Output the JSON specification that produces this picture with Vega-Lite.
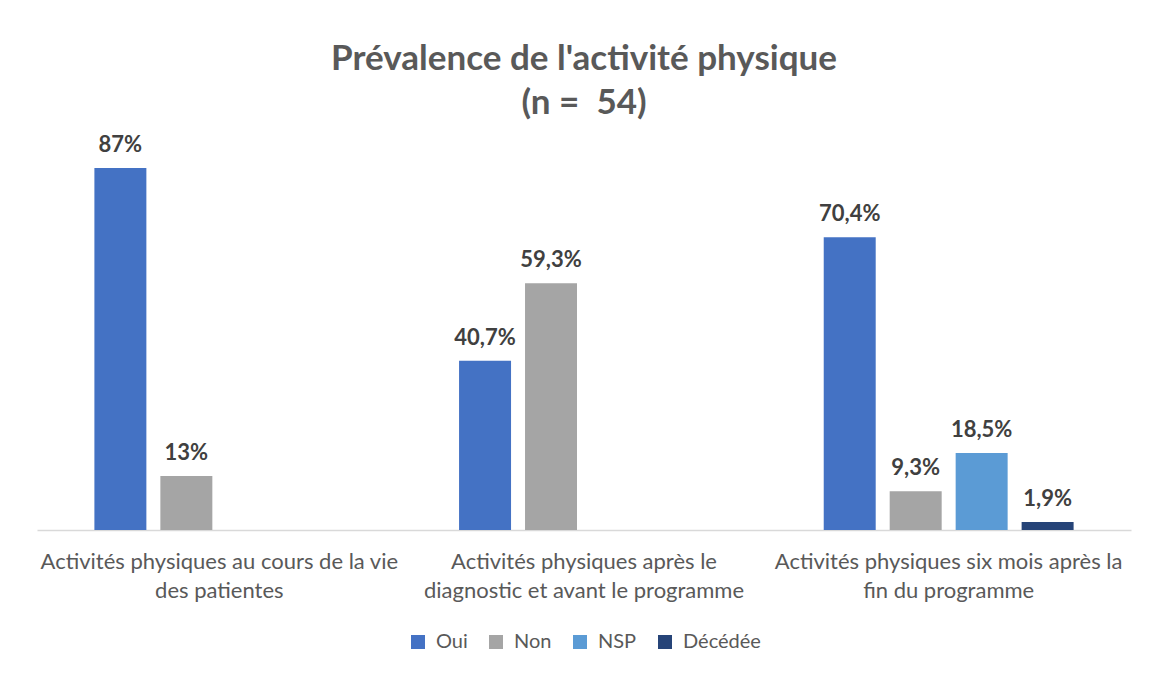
{
  "$schema": "https://vega.github.io/schema/vega-lite/v6.json",
  "width": 1094,
  "height": 416,
  "padding": {"left": 37, "top": 42, "right": 20, "bottom": 0},
  "autosize": {"type": "pad"},
  "background": "white",
  "config": {
    "view": {"stroke": null},
    "font": "Lato",
    "legend": {"layout": {"bottom": {"anchor": "middle"}}}
  },
  "title": {
    "text": ["Prévalence de l'activité physique", "(n =\u00a0 54)"],
    "fontSize": 35,
    "font": "Lato",
    "fontWeight": "bold",
    "color": "#595959",
    "lineHeight": 44,
    "anchor": "middle",
    "offset": -7
  },
  "data": {
    "values": [
      {"cat": "Activités physiques au cours de la vie|des patientes", "serie": "Oui", "value": 87, "label": "87%"},
      {"cat": "Activités physiques au cours de la vie|des patientes", "serie": "Non", "value": 13, "label": "13%"},
      {"cat": "Activités physiques après le|diagnostic et avant le programme", "serie": "Oui", "value": 40.7, "label": "40,7%"},
      {"cat": "Activités physiques après le|diagnostic et avant le programme", "serie": "Non", "value": 59.3, "label": "59,3%"},
      {"cat": "Activités physiques six mois après la|fin du programme", "serie": "Oui", "value": 70.4, "label": "70,4%"},
      {"cat": "Activités physiques six mois après la|fin du programme", "serie": "Non", "value": 9.3, "label": "9,3%"},
      {"cat": "Activités physiques six mois après la|fin du programme", "serie": "NSP", "value": 18.5, "label": "18,5%"},
      {"cat": "Activités physiques six mois après la|fin du programme", "serie": "Décédée", "value": 1.9, "label": "1,9%"}
    ]
  },
  "encoding": {
    "x": {
      "field": "cat",
      "type": "nominal",
      "sort": null,
      "scale": {"paddingInner": 0, "paddingOuter": 0},
      "axis": {
        "title": null,
        "labelAngle": 0,
        "labelExpr": "split(datum.label, '|')",
        "labelFontSize": 22,
        "labelColor": "#595959",
        "labelLineHeight": 29,
        "labelPadding": 21,
        "labelLimit": 400,
        "ticks": false,
        "domainColor": "#D9D9D9",
        "domainWidth": 1.5
      }
    },
    "xOffset": {
      "field": "serie",
      "type": "nominal",
      "sort": ["Oui", "Non", "NSP", "Décédée"],
      "scale": {"domain": ["Oui", "Non", "NSP", "Décédée"], "paddingInner": 0.212, "paddingOuter": 0.87}
    },
    "y": {
      "field": "value",
      "type": "quantitative",
      "scale": {"domain": [0, 100]},
      "axis": null
    }
  },
  "layer": [
    {
      "mark": {"type": "bar"},
      "encoding": {
        "color": {
          "field": "serie",
          "type": "nominal",
          "sort": ["Oui", "Non", "NSP", "Décédée"],
          "scale": {"domain": ["Oui", "Non", "NSP", "Décédée"], "range": ["#4472C4", "#A5A5A5", "#5B9BD5", "#264478"]},
          "legend": {
            "title": null,
            "orient": "bottom",
            "direction": "horizontal",
            "symbolType": "square",
            "symbolSize": 196,
            "symbolStrokeWidth": 0,
            "symbolOpacity": 1,
            "labelFontSize": 20,
            "labelColor": "#595959",
            "labelOffset": 8,
            "columnPadding": 18,
            "offset": 31
          }
        }
      }
    },
    {
      "mark": {"type": "text", "baseline": "alphabetic", "dy": -16, "fontSize": 22, "fontWeight": "bold", "color": "#404040"},
      "encoding": {"text": {"field": "label"}}
    }
  ]
}
